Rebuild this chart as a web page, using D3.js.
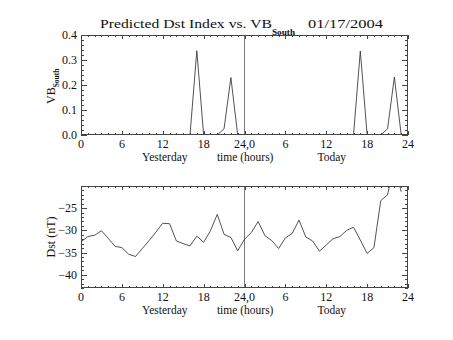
<!DOCTYPE html>
<html><head><meta charset="utf-8">
<script src="https://cdn.jsdelivr.net/npm/d3@7"></script>
<style>
html,body{margin:0;padding:0;background:#fff;}
svg text{font-family:"Liberation Serif","DejaVu Serif",serif;fill:#111;}
</style></head>
<body>
<svg id="c" width="453" height="340"></svg>
<script>
// ---- data ----
const hours = [0,1,2,3,4,5,6,7,8,9,10,11,12,13,14,15,16,17,18,19,20,21,22,23,
               24,25,26,27,28,29,30,31,32,33,34,35,36,37,38,39,40,41,42,43,44,45,46,47];
const vbSouth = [0,0,0,0,0,0,0,0,0,0,0,0,0,0,0,0,0,0.337,0,0,0,0.025,0.23,0,
                 0,0,0,0,0,0,0,0,0,0,0,0,0,0,0,0,0,0.336,0,0,0,0.025,0.232,0];
const dst = [-32.6,-31.4,-31.1,-30.1,-31.8,-33.6,-33.9,-35.4,-35.9,-34.1,-32.3,-30.4,
             -28.4,-28.5,-32.4,-33.0,-33.5,-31.3,-32.7,-30.1,-26.4,-30.9,-31.6,-34.6,
             -32.0,-30.5,-28.0,-31.2,-32.3,-34.1,-31.7,-30.7,-27.7,-31.5,-32.4,-34.7,
             -33.3,-31.9,-31.4,-30.0,-29.3,-32.2,-35.2,-33.9,-23.3,-22.0,-15.0,-21.3];
const xTickValues = [0,6,12,18,24,30,36,42,48];
const xTickLabels = ["0","6","12","18","24,0","6","12","18","24"];
const vbTicks = [0.0,0.1,0.2,0.3,0.4];
const vbTickLabels = ["0.0","0.1","0.2","0.3","0.4"];
const dstTicks = [-40,-35,-30,-25];
const dstTickLabels = ["\u221240","\u221235","\u221230","\u221225"];
const xTitles = [{h:12.3,t:"Yesterday"},{h:24.1,t:"time (hours)"},{h:36.8,t:"Today"}];

const svg = d3.select("#c");
const L = 81, R = 408;
const x = d3.scaleLinear().domain([0,48]).range([L,R]);
const axisCol = "#444";

function panel(top, bottom, yDomain, majors, majorLabels, minorStep, values, clipId){
  const y = d3.scaleLinear().domain(yDomain).range([bottom, top]);
  const g = svg.append("g");
  g.append("clipPath").attr("id",clipId).append("rect")
    .attr("x",L).attr("y",top).attr("width",R-L).attr("height",bottom-top);
  g.append("line").attr("x1",x(24)).attr("x2",x(24)).attr("y1",top).attr("y2",bottom)
    .attr("stroke","#7a7a7a").attr("stroke-width",1).attr("shape-rendering","crispEdges");
  g.append("path").datum(hours.map((h,i)=>[h,values[i]]))
    .attr("clip-path",`url(#${clipId})`)
    .attr("fill","none").attr("stroke","#333").attr("stroke-width",0.85)
    .attr("d", d3.line().x(d=>x(d[0])).y(d=>y(d[1])));
  g.append("rect").attr("x",L+0.5).attr("y",top+0.5).attr("width",R-L-1).attr("height",bottom-top-1)
    .attr("fill","none").attr("stroke",axisCol).attr("stroke-width",1).attr("shape-rendering","crispEdges");
  const majorSet = new Set(xTickValues);
  d3.range(0,49,1).forEach(h=>{
    const len = majorSet.has(h) ? 4 : 2;
    const xx = Math.round(x(h))+0.5;
    g.append("line").attr("x1",xx).attr("x2",xx).attr("y1",bottom).attr("y2",bottom-len)
      .attr("stroke",axisCol).attr("shape-rendering","crispEdges");
    g.append("line").attr("x1",xx).attr("x2",xx).attr("y1",top).attr("y2",top+len)
      .attr("stroke",axisCol).attr("shape-rendering","crispEdges");
  });
  const nMin = Math.ceil(yDomain[0]/minorStep-1e-6), nMax = Math.floor(yDomain[1]/minorStep+1e-6);
  for(let k=nMin;k<=nMax;k++){
    const v = k*minorStep;
    const isMajor = majors.some(m=>Math.abs(m-v)<1e-6);
    const len = isMajor ? 6 : 3;
    const yy = Math.round(y(v))+0.5;
    g.append("line").attr("x1",L).attr("x2",L+len).attr("y1",yy).attr("y2",yy)
      .attr("stroke",axisCol).attr("shape-rendering","crispEdges");
    g.append("line").attr("x1",R).attr("x2",R-len).attr("y1",yy).attr("y2",yy)
      .attr("stroke",axisCol).attr("shape-rendering","crispEdges");
  }
  majors.forEach((m,i)=>{
    g.append("text").attr("x",L-4).attr("y",y(m)+4).attr("text-anchor","end")
      .attr("font-size",12).text(majorLabels[i]);
  });
  xTickValues.forEach((h,i)=>{
    g.append("text").attr("x",x(h)).attr("y",bottom+12.5).attr("text-anchor","middle")
      .attr("font-size",12).text(xTickLabels[i]);
  });
  xTitles.forEach(t=>{
    g.append("text").attr("x",x(t.h)).attr("y",bottom+25.5).attr("text-anchor","middle")
      .attr("font-size",11.5).text(t.t);
  });
  return y;
}

panel(35, 135, [0,0.4], vbTicks, vbTickLabels, 0.02, vbSouth, "clipTop");
panel(186, 288, [-43,-20], dstTicks, dstTickLabels, 1, dst, "clipBot");

// title
svg.append("text").attr("x",100).attr("y",28).attr("font-size",13)
  .attr("textLength",172).attr("lengthAdjust","spacingAndGlyphs")
  .text("Predicted Dst Index vs. VB");
svg.append("text").attr("x",272).attr("y",34.5).attr("font-size",8).attr("font-weight","bold")
  .attr("textLength",23).attr("lengthAdjust","spacingAndGlyphs").text("South");
svg.append("text").attr("x",308).attr("y",28).attr("font-size",13)
  .attr("textLength",75).attr("lengthAdjust","spacingAndGlyphs").text("01/17/2004");

// y titles
const yt1 = svg.append("text").attr("transform","translate(55,104) rotate(-90)").attr("font-size",12);
yt1.append("tspan").text("VB");
yt1.append("tspan").attr("font-size",7.5).attr("font-weight","bold").attr("dy",4).text("South");
svg.append("text").attr("transform","translate(55,237) rotate(-90)").attr("text-anchor","middle")
  .attr("font-size",12).text("Dst (nT)");
</script>
</body></html>
